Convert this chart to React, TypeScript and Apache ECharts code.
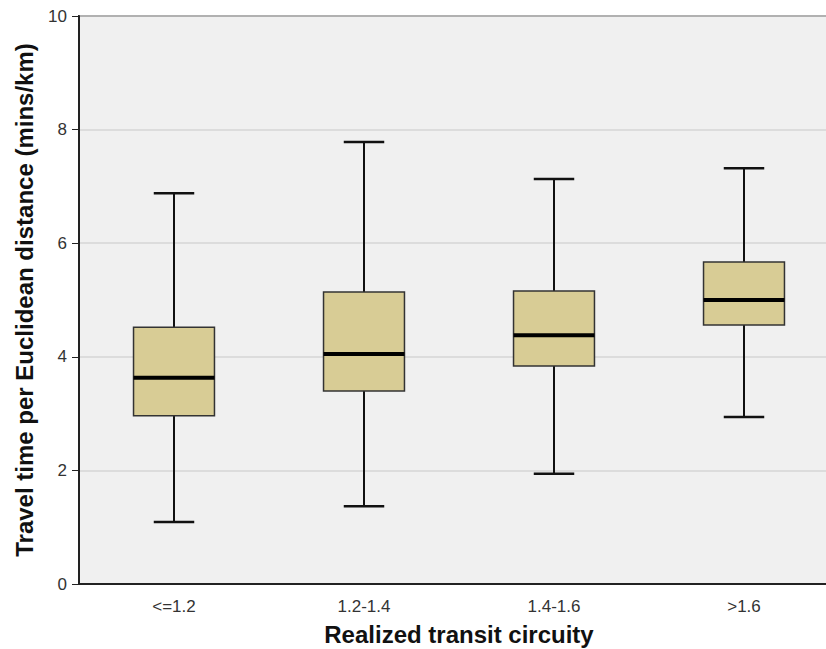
import React, { useEffect, useRef } from "react";
import * as echarts from "echarts";

const categories = ["<=1.2", "1.2-1.4", "1.4-1.6", ">1.6"];
const whiskerLow = [1.09, 1.37, 1.94, 2.94];
const q1 = [2.96, 3.4, 3.84, 4.56];
const median = [3.63, 4.05, 4.38, 5.0];
const q3 = [4.52, 5.14, 5.16, 5.67];
const whiskerHigh = [6.88, 7.78, 7.13, 7.32];

export default function App() {
  const ref = useRef<HTMLDivElement>(null);
  useEffect(() => {
    if (!ref.current) return;
    const chart = echarts.init(ref.current, null, { renderer: "svg" });
    const data = categories.map((_, i) => [i, whiskerLow[i], q1[i], median[i], q3[i], whiskerHigh[i]]);
    const font = "'Liberation Sans', Arial, sans-serif";
    chart.setOption({
      animation: false,
      grid: {
        left: 79,
        top: 16,
        right: -13,
        bottom: 65,
        outerBoundsMode: "none",
        containLabel: false,
        show: true,
        backgroundColor: "#f0f0f0",
        borderColor: "#444",
        borderWidth: 2,
      },
      xAxis: {
        type: "category",
        data: categories,
        name: "Realized transit circuity",
        nameLocation: "middle",
        nameGap: 38,
        nameTextStyle: { fontFamily: font, fontWeight: "bold", fontSize: 24, color: "#111" },
        axisLine: { lineStyle: { color: "#222", width: 2 } },
        axisTick: { alignWithLabel: true, length: 9, lineStyle: { color: "#222", width: 2 } },
        axisLabel: { fontFamily: font, fontSize: 17, color: "#333", margin: 14 },
        splitLine: { show: false },
      },
      yAxis: {
        type: "value",
        min: 0,
        max: 10,
        interval: 2,
        name: "Travel time per Euclidean distance (mins/km)",
        nameLocation: "middle",
        nameGap: 43,
        nameTextStyle: { fontFamily: font, fontWeight: "bold", fontSize: 24, color: "#111" },
        axisLine: { show: true, lineStyle: { color: "#222", width: 2 } },
        axisTick: { show: true, length: 7, lineStyle: { color: "#222", width: 1 } },
        axisLabel: { fontFamily: font, fontSize: 17, color: "#333", margin: 12 },
        splitLine: { show: true, lineStyle: { color: "#d6d6d6", width: 1.5 } },
      },
      series: [
        {
          type: "custom",
          data,
          renderItem: (params: any, api: any) => {
            const idx = api.value(0);
            const lo = api.coord([idx, api.value(1)]);
            const b1 = api.coord([idx, api.value(2)]);
            const md = api.coord([idx, api.value(3)]);
            const b3 = api.coord([idx, api.value(4)]);
            const hi = api.coord([idx, api.value(5)]);
            const band = api.size([1, 0])[0];
            const bw = band * 0.426;
            const cw = bw / 2;
            const x = lo[0];
            return {
              type: "group",
              children: [
                { type: "line", shape: { x1: x, y1: hi[1], x2: x, y2: b3[1] }, style: { stroke: "#111", lineWidth: 2 } },
                { type: "line", shape: { x1: x, y1: b1[1], x2: x, y2: lo[1] }, style: { stroke: "#111", lineWidth: 2 } },
                { type: "line", shape: { x1: x - cw / 2, y1: hi[1], x2: x + cw / 2, y2: hi[1] }, style: { stroke: "#111", lineWidth: 2.5 } },
                { type: "line", shape: { x1: x - cw / 2, y1: lo[1], x2: x + cw / 2, y2: lo[1] }, style: { stroke: "#111", lineWidth: 2.5 } },
                {
                  type: "rect",
                  shape: { x: x - bw / 2, y: b3[1], width: bw, height: b1[1] - b3[1] },
                  style: { fill: "#d8cc95", stroke: "#333", lineWidth: 1.5 },
                },
                { type: "line", shape: { x1: x - bw / 2, y1: md[1], x2: x + bw / 2, y2: md[1] }, style: { stroke: "#000", lineWidth: 4 } },
              ],
            };
          },
        },
      ],
    });
    return () => chart.dispose();
  }, []);
  return (
    <div
      ref={ref}
      style={{ position: "fixed", left: 0, top: 0, width: 826, height: 649, background: "#fff" }}
    />
  );
}
